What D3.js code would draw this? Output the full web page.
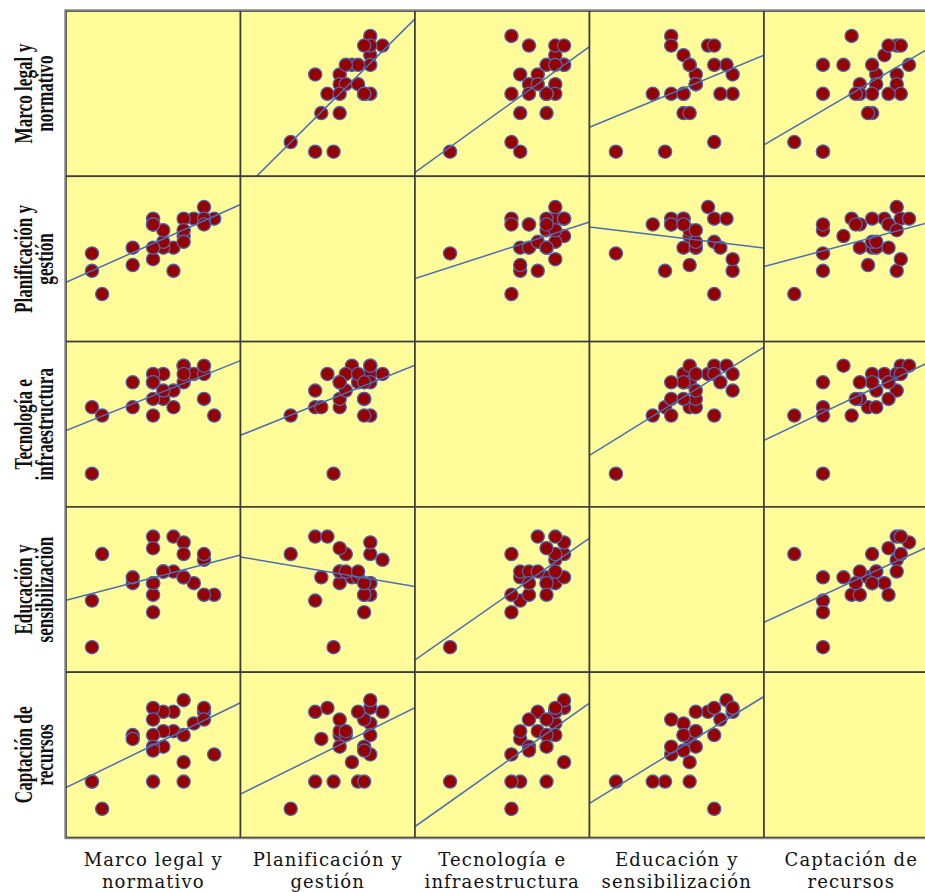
<!DOCTYPE html>
<html>
<head>
<meta charset="utf-8">
<script src="https://cdn.jsdelivr.net/npm/d3@7"></script>
<style>
  body { margin: 0; background: #ffffff; }
  svg { display: block; }
</style>
</head>
<body>
<svg id="chart" width="925" height="892"></svg>
<script>
// ---- Data (scores, in score-step units) ----
const variableNames = ["Marco legal y normativo", "Planificación y gestión", "Tecnología e infraestructura", "Educación y sensibilización", "Captación de recursos"];
const labelLines = [["Marco legal y", "normativo"], ["Planificación y", "gestión"], ["Tecnología e", "infraestructura"], ["Educación y", "sensibilización"], ["Captación de", "recursos"]];
const marcoLegal    = [0, 0, 1, 4, 4, 8, 8, 10, 12, 11, 11, 11, 9, 9, 9, 9, 7, 7, 7, 6, 6, 6, 6, 6, 6];
const planificacion = [7, 4, 0, 8, 5, 4, 8, 13, 13, 15, 13, 12, 13, 10, 11, 9, 8, 9, 11, 6, 8, 13, 12, 12, 12];
const tecnologia    = [0, 8, 7, 11, 8, 10, 8, 12, 7, 12, 13, 9, 13, 13, 11, 12, 9, 10, 12, 12, 11, 11, 7, 11, 9];
const educacion     = [0, 8, 16, 11, 12, 19, 13, 11, 9, 15, 16, 9, 18, 12, 12, 16, 13, 13, 13, 19, 17, 11, 6, 9, 11];
const captacion     = [7, 7, 0, 19, 18, 25, 20, 22, 14, 25, 26, 23, 28, 12, 7, 19, 16, 20, 25, 26, 23, 19, 7, 16, 15];
const axisMin = [-2.55, -8.2, -4.0, -4.3, -7.4];
const axisMax = [14.58, 20.3, 15.9, 24.1, 35.2];

// ---- Layout ----
const series = [marcoLegal, planificacion, tecnologia, educacion, captacion];
const nVar = series.length;
const gridLeft = 66, gridTop = 11, cellW = 174.5, cellH = 165.3;
const svg = d3.select("#chart");
const defs = svg.append("defs");

function ols(xv, yv) {
  const mx = d3.mean(xv), my = d3.mean(yv);
  let sxy = 0, sxx = 0;
  xv.forEach((x, k) => { sxy += (x - mx) * (yv[k] - my); sxx += (x - mx) * (x - mx); });
  const b = sxy / sxx;
  return { b: b, a: my - b * mx };
}

for (let i = 0; i < nVar; i++) {
  for (let j = 0; j < nVar; j++) {
    const g = svg.append("g").attr("transform", `translate(${gridLeft + j * cellW},${gridTop + i * cellH})`);
    const clipId = `clip-${i}-${j}`;
    defs.append("clipPath").attr("id", clipId)
      .append("rect").attr("x", 0).attr("y", 0).attr("width", cellW).attr("height", cellH);
    g.append("rect").attr("width", cellW).attr("height", cellH).attr("fill", "#fffc99");
    if (i !== j) {
      const xs = d3.scaleLinear().domain([axisMin[j], axisMax[j]]).range([0, cellW]);
      const ys = d3.scaleLinear().domain([axisMin[i], axisMax[i]]).range([cellH, 0]);
      const pts = series[j].map((x, k) => ({ x: x, y: series[i][k] }));
      const inner = g.append("g").attr("clip-path", `url(#${clipId})`);
      inner.selectAll("circle").data(pts).join("circle")
        .attr("cx", d => xs(d.x)).attr("cy", d => ys(d.y)).attr("r", 6.6)
        .attr("fill", "#970000").attr("stroke", "#4b67b0").attr("stroke-width", 1.3);
      const fit = ols(series[j], series[i]);
      const lx = xs.domain();
      inner.append("line")
        .attr("x1", xs(lx[0])).attr("y1", ys(fit.a + fit.b * lx[0]))
        .attr("x2", xs(lx[1])).attr("y2", ys(fit.a + fit.b * lx[1]))
        .attr("stroke", "#4a6db5").attr("stroke-width", 1.5);
    }
    g.append("rect").attr("width", cellW).attr("height", cellH)
      .attr("fill", "none").attr("stroke", "#3c3c3c").attr("stroke-width", 1.6);
  }
}
// outer frame
svg.append("rect").attr("x", gridLeft - 1).attr("y", gridTop - 1)
  .attr("width", cellW * nVar + 2).attr("height", cellH * nVar + 2)
  .attr("fill", "none").attr("stroke", "#8a8a8a").attr("stroke-width", 1.5);

// x labels
for (let j = 0; j < nVar; j++) {
  const cx = gridLeft + j * cellW + cellW / 2;
  const t = svg.append("text").attr("x", cx).attr("y", gridTop + nVar * cellH + 28)
    .attr("text-anchor", "middle").attr("font-family", "DejaVu Serif, serif")
    .attr("font-size", 18).attr("fill", "#111").attr("letter-spacing", 1.1);
  labelLines[j].forEach((line, k) => {
    t.append("tspan").attr("x", cx).attr("dy", k === 0 ? 0 : 22).text(line);
  });
}
// y labels
for (let i = 0; i < nVar; i++) {
  const cy = gridTop + i * cellH + cellH / 2;
  labelLines[i].forEach((line, k) => {
    svg.append("text")
      .attr("transform", `translate(${32 + k * 21},${cy}) rotate(-90) scale(0.66,1)`)
      .attr("text-anchor", "middle").attr("font-family", "Liberation Serif, serif")
      .attr("font-weight", "bold").attr("font-size", 26).attr("fill", "#111")
      .text(line);
  });
}
</script>
</body>
</html>
